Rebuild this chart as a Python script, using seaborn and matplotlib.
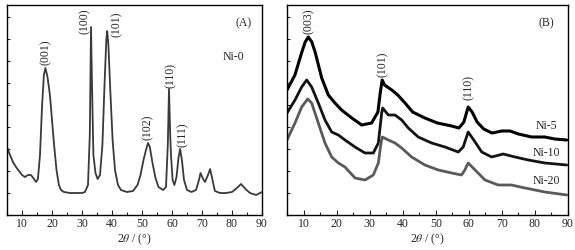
import matplotlib
matplotlib.use("Agg")
import matplotlib.pyplot as plt
import seaborn as sns
import numpy as np
from matplotlib.ticker import MultipleLocator, NullFormatter

# Panel A: Ni-0 pattern (2theta, intensity a.u.)
theta_a = [5, 6, 7, 8, 9, 10, 11, 12, 13, 14, 14.7, 15.3, 16, 16.7, 17.3, 17.8,
           18.5, 19.3, 20, 20.7, 21.5, 22.3, 23, 24, 26, 28, 30, 31, 32, 32.6,
           33.0, 33.4, 33.8, 34.5, 35.2, 36, 36.8, 37.5, 38.1, 38.4, 38.8, 39.5,
           40.2, 41, 42, 43, 45, 47, 48.5, 49.5, 50.5, 51.5, 52, 52.6, 53.5,
           54.5, 55.5, 57, 58, 58.6, 59.0, 59.4, 59.7, 60.2, 60.8, 61.5, 62.2,
           62.7, 63.3, 64, 65, 66.5, 68, 69, 69.5, 70.2, 71, 72, 72.7, 73.5,
           74.3, 76, 78, 80, 82, 83, 84.5, 86, 88, 90]
ni0 = [68, 60, 53, 48, 44, 40, 38, 40, 40, 36, 33, 36, 60, 110, 140, 147,
       138, 120, 95, 70, 45, 30, 25, 23, 22, 22, 22, 23, 30, 80,
       188, 120, 60, 42, 36, 40, 70, 130, 175, 184, 170, 120,
       75, 45, 30, 25, 23, 24, 30, 40, 55, 67, 72, 68, 52,
       37, 28, 25, 28, 70, 126, 80, 58, 35, 30, 38, 58,
       66, 55, 35, 25, 23, 25, 35, 42, 37, 33, 40, 46, 35,
       24, 22, 22, 23, 28, 31, 26, 22, 20, 23]

# Panel B: three samples
theta_5 = [5, 7.4, 9.4, 10.5, 11.45, 12.5, 13.5, 15.5, 17.5, 19.5, 21.5, 24.6,
           27.6, 30.6, 32.5, 33.2, 33.8, 34.5, 36.7, 38.5, 40.7, 43, 46.7, 50.5,
           54.8, 57, 58.5, 59.8, 61, 62.5, 64.5, 67, 70, 72.5, 75, 79, 83, 86, 89.6]
ni5 = [125, 140, 162, 173, 178, 173, 163, 137, 120, 112, 105, 97,
       90, 92, 103, 122, 135, 130, 125, 120, 112, 103, 97, 92,
       89, 87, 93, 108, 103, 93, 86, 82, 84, 84, 81, 78, 78, 76, 75]

theta_10 = [5, 7.42, 9.44, 10.95, 12.46, 14.47, 16.49, 18.51, 20.53, 22.54,
            25.57, 28.59, 31.11, 32.63, 33.64, 33.94, 35.65, 37.67, 39.69, 41.7,
            44.7, 48.75, 52.79, 56.8, 58.3, 59.8, 61.9, 63.9, 66.9, 70.4, 73.97,
            78, 83, 89.6]
ni10 = [102, 115, 128, 135, 128, 112, 95, 83, 80, 75,
        68, 62, 62, 72, 102, 107, 100, 100, 95, 87,
        78, 72, 68, 63, 68, 83, 73, 63, 58, 61, 58,
        55, 52, 50]

theta_20 = [5, 7.42, 9.44, 11.25, 12.46, 14.47, 16.49, 18.51, 20.53, 22.54,
            25.57, 28.59, 31.11, 32.63, 33.43, 33.84, 35.65, 37.67, 39.69, 42.7,
            46.7, 50.77, 54.8, 57.8, 58.8, 59.8, 61.9, 64.9, 68.9, 72.9, 77,
            83, 89.6]
ni20 = [75, 92, 108, 116, 112, 92, 72, 58, 52, 48,
        37, 35, 40, 52, 72, 78, 75, 72, 67, 58,
        50, 45, 42, 40, 45, 52, 45, 35, 30, 30, 27,
        23, 20]

# peak labels: text, 2theta, pixel row of label centre
hkl_a = [("(001)", 17.8, 52), ("(100)", 30.8, 21), ("(101)", 41.6, 24),
         ("(102)", 52.0, 127), ("(110)", 59.7, 75), ("(111)", 63.5, 135)]
hkl_b = [("(003)", 11.6, 21), ("(101)", 34.0, 64), ("(110)", 59.9, 88)]
names_b = [("Ni-5", 126), ("Ni-10", 153), ("Ni-20", 181)]

sns.set_style("ticks")
plt.rcParams["font.family"] = ["Liberation Serif", "DejaVu Serif"]
plt.rcParams["mathtext.fontset"] = "stix"
fs = 8.5

fig = plt.figure(figsize=(5.75, 2.5), dpi=100)
ax1 = fig.add_axes([7 / 575, 35 / 250, 255 / 575, 210 / 250])
ax2 = fig.add_axes([287 / 575, 35 / 250, 281 / 575, 210 / 250])

sns.lineplot(x=theta_a, y=ni0, ax=ax1, color="#3a3a3a", lw=1.3)
sns.lineplot(x=theta_5, y=ni5, ax=ax2, color="#000000", lw=2.2)
sns.lineplot(x=theta_10, y=ni10, ax=ax2, color="#141414", lw=2.0)
sns.lineplot(x=theta_20, y=ni20, ax=ax2, color="#5a5a5a", lw=2.0)

for ax in (ax1, ax2):
    ax.set_xlim(5, 90)
    ax.set_ylim(0, 210)
    ax.xaxis.set_major_locator(MultipleLocator(10))
    ax.xaxis.set_minor_locator(MultipleLocator(5))
    ax.yaxis.set_major_locator(MultipleLocator(22))
    ax.yaxis.set_major_formatter(NullFormatter())
    ax.tick_params(axis="both", which="both", direction="in", top=False,
                   right=False, labelsize=fs, width=0.8, pad=2)
    ax.tick_params(axis="x", which="major", length=3.5)
    ax.tick_params(axis="x", which="minor", length=2)
    ax.tick_params(axis="y", length=2.5)
    for s in ax.spines.values():
        s.set_linewidth(1.0)
        s.set_color("black")
    ax.set_xlabel(r"2$\theta$ / (°)", fontsize=fs, labelpad=1)
    ax.set_ylabel("")

for lab, x, y in hkl_a:
    ax1.text(x, 215 - y, lab, rotation=90, ha="center", va="center", fontsize=fs)
ax1.text(84, 192, "(A)", ha="center", va="center", fontsize=fs)
ax1.text(80.5, 158, "Ni-0", ha="center", va="center", fontsize=fs)

for lab, x, y in hkl_b:
    ax2.text(x, 215 - y, lab, rotation=90, ha="center", va="center", fontsize=fs)
ax2.text(83.3, 192, "(B)", ha="center", va="center", fontsize=fs)
for lab, y in names_b:
    ax2.text(83.5, 215 - y, lab, ha="center", va="center", fontsize=fs)

fig.savefig("out.png", dpi=100)
